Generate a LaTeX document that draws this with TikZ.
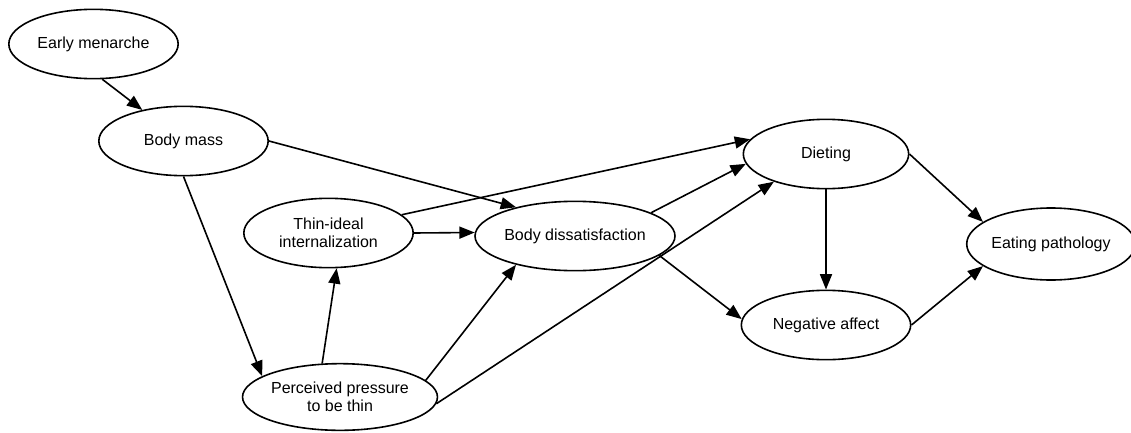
\documentclass[tikz,border=0pt]{standalone}
\usepackage{fontspec}
\setmainfont{Liberation Sans}
\usetikzlibrary{
		shapes.geometric,
		arrows.meta
	}
\tikzset{
		>={Triangle[length=11.5pt,width=9pt]}
	}
\begin{document}
\begin{tikzpicture}[-,x=0.75pt,y=-0.75pt,line width=1.2pt]
	\tikzstyle{var}=[draw, ellipse, inner sep=0pt, minimum width=127pt, minimum height=52pt, align=center, font=\fontsize{12}{13.5}\selectfont]
	\useasboundingbox (0,0) rectangle (1131,432);
	% Variables
	\node[var] (em) at (93.5,44)                 {Early menarche};
	\node[var] (bm) at (183.5,141)               {Body mass};
	\node[var] (ti) at (328.5,233)               {Thin-ideal\\internalization};
	\node[var, minimum width=123pt] (bd) at (575,236) {Body dissatisfaction};
	\node[var, minimum width=130pt, minimum height=50pt] (pp) at (340,397) {Perceived pressure\\to be thin};
	\node[var, minimum width=124pt] (di) at (826,154) {Dieting};
	\node[var] (na) at (826,325)                 {Negative affect};
	\node[var, minimum width=119pt, minimum height=54pt] (ep) at (1051,244) {Eating pathology};
	% Paths
	\foreach \from/\to in {em.-76/bm.143, bm.east/bd.154, bm.south/pp.165, pp.118/ti.-77,
		ti.east/bd.178, ti.14/di.169, bd.17/di.-173, pp.11/bd.-154, pp.-4/di.-152,
		bd.-13/na.176, di.south/na.north, di.east/ep.162, na.east/ep.-162}
		\draw[->] (\from) -- (\to);
\end{tikzpicture}
\end{document}
